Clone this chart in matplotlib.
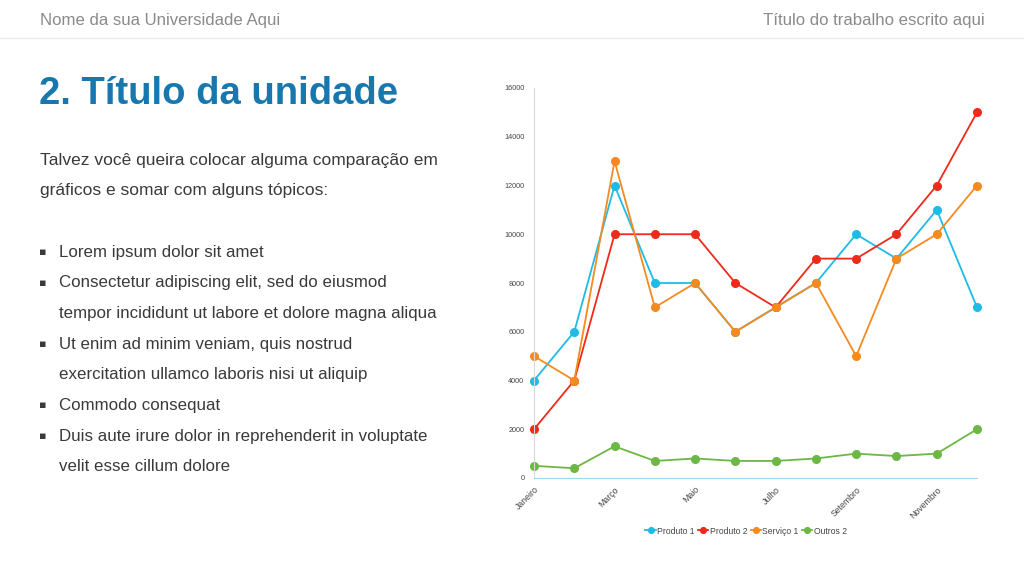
import matplotlib
matplotlib.use("Agg")
import matplotlib.pyplot as plt
from matplotlib.lines import Line2D

months = ["Janeiro", "Fevereiro", "Março", "Abril", "Maio", "Junho",
          "Julho", "Agosto", "Setembro", "Outubro", "Novembro", "Dezembro"]
produto1 = [4000, 6000, 12000, 8000, 8000, 6000, 7000, 8000, 10000, 9000, 11000, 7000]
produto2 = [2000, 4000, 10000, 10000, 10000, 8000, 7000, 9000, 9000, 10000, 12000, 15000]
servico1 = [5000, 4000, 13000, 7000, 8000, 6000, 7000, 8000, 5000, 9000, 10000, 12000]
outros2 = [500, 400, 1300, 700, 800, 700, 700, 800, 1000, 900, 1000, 2000]
series_names = ["Produto 1", "Produto 2", "Serviço 1", "Outros 2"]
yticks = [0, 2000, 4000, 6000, 8000, 10000, 12000, 14000, 16000]

colors = ["#1fbbe6", "#ee2a1b", "#f58a1f", "#6cb746"]

plt.rcParams['font.family'] = ['Liberation Sans', 'DejaVu Sans']

fig = plt.figure(figsize=(10.24, 5.76), dpi=100)
W, H = 1024, 576

def fx(x):
    return x / W

def fy(y):
    return 1 - y / H

# Header
fig.text(fx(40), fy(20), "Nome da sua Universidade Aqui", fontsize=12.1, color="#8a8a8a",
         ha="left", va="center")
fig.text(fx(985), fy(20), "Título do trabalho escrito aqui", fontsize=12.1, color="#8a8a8a",
         ha="right", va="center")
fig.add_artist(Line2D([0, 1], [fy(38), fy(38)], color="#ececec", lw=1.0))

# Title
fig.text(fx(39), fy(94), "2. Título da unidade", fontsize=27.5, fontweight="bold",
         color="#1878ae", ha="left", va="center")

# Body
body_color = "#3a3a3a"
fig.text(fx(40), fy(161), "Talvez você queira colocar alguma comparação em",
         fontsize=12.5, color=body_color, ha="left", va="center")
fig.text(fx(40), fy(191), "gráficos e somar com alguns tópicos:",
         fontsize=12.5, color=body_color, ha="left", va="center")

lines = [
    (True, "Lorem ipsum dolor sit amet"),
    (True, "Consectetur adipiscing elit, sed do eiusmod"),
    (False, "tempor incididunt ut labore et dolore magna aliqua"),
    (True, "Ut enim ad minim veniam, quis nostrud"),
    (False, "exercitation ullamco laboris nisi ut aliquip"),
    (True, "Commodo consequat"),
    (True, "Duis aute irure dolor in reprehenderit in voluptate"),
    (False, "velit esse cillum dolore"),
]
y0 = 252
step = 30.7
for i, (bul, txt) in enumerate(lines):
    yy = y0 + i * step
    if bul:
        fig.text(fx(39), fy(yy), "▪", fontsize=8, color=body_color, ha="left", va="center",
                 family=['DejaVu Sans'])
    fig.text(fx(59), fy(yy), txt, fontsize=12.2, color=body_color, ha="left", va="center")

# Chart
ax = fig.add_axes([fx(534), fy(478), fx(977) - fx(534), fy(88) - fy(478)])
x = list(range(len(months)))
for vals, name, c in zip([produto1, produto2, servico1, outros2], series_names, colors):
    ax.plot(x, vals, color=c, lw=1.3, marker="o", markersize=5.5, label=name, clip_on=False)

ax.set_xlim(0, len(months) - 1)
ax.set_ylim(0, 16000)
ax.set_yticks(yticks)
ax.set_yticklabels([str(t) for t in yticks], fontsize=5.2, color="#444444")
ax.set_xticks(x[::2])
ax.set_xticklabels(months[::2], rotation=45, ha="right", rotation_mode="anchor",
                   fontsize=6.3, color="#444444")
ax.tick_params(axis="both", length=0)
ax.tick_params(axis="y", pad=7)
ax.tick_params(axis="x", pad=5)
for s in ["top", "right"]:
    ax.spines[s].set_visible(False)
ax.spines["left"].set_color("#d9d9d9")
ax.spines["left"].set_linewidth(0.8)
ax.spines["bottom"].set_color("#9fd8ea")
ax.spines["bottom"].set_linewidth(0.8)

leg_x = (746 - 534) / (977 - 534)
leg_y = (fy(531) - fy(478)) / (fy(88) - fy(478))
leg = ax.legend(loc="center", bbox_to_anchor=(leg_x, leg_y),
                ncol=4, frameon=False, fontsize=6.2, handlelength=1.2, handletextpad=0.15,
                columnspacing=0.4, markerscale=0.75)
for t in leg.get_texts():
    t.set_color("#444444")

fig.savefig("out.png", dpi=100, facecolor="white")
